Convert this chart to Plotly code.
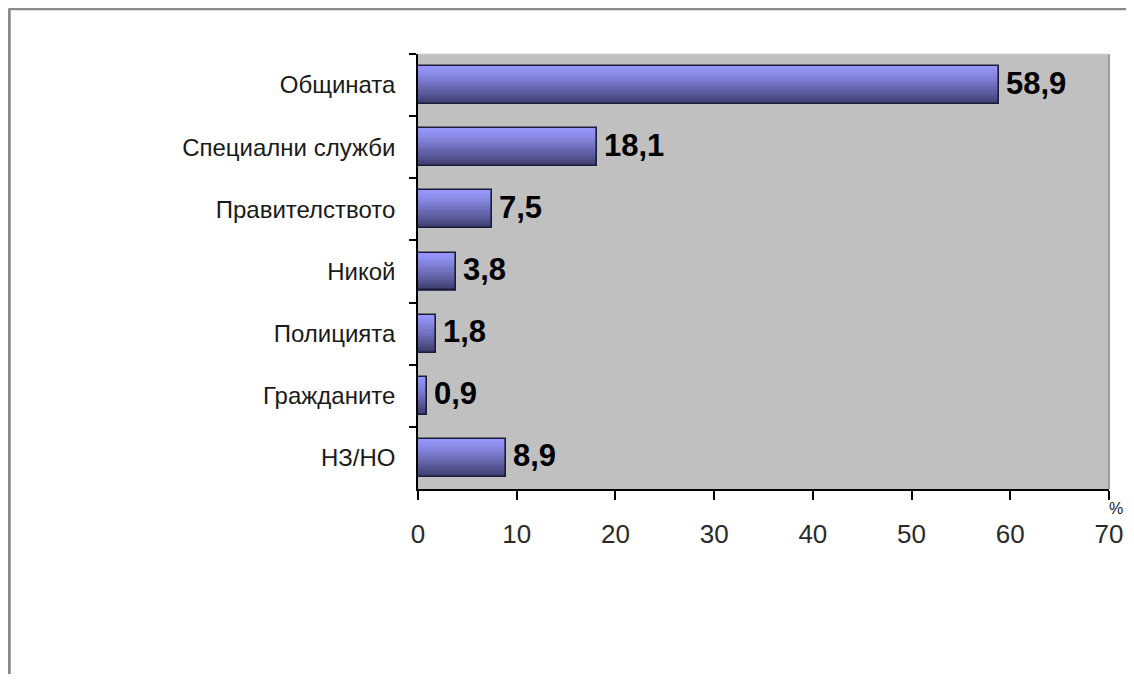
import plotly.graph_objects as go

# ---- data ----
categories = ["Общината", "Специални служби", "Правителството", "Никой",
              "Полицията", "Гражданите", "НЗ/НО"]
values = [58.9, 18.1, 7.5, 3.8, 1.8, 0.9, 8.9]
x_ticks = [0, 10, 20, 30, 40, 50, 60, 70]
unit_label = "%"

# ---- geometry / style (figure pixel coords; page adds an 8px body margin) ----
W, H = 1126, 666
L, R, T, B = 410, 1101, 46, 481
FONT = "Liberation Sans, Arial, sans-serif"
bar_w = 0.61
n_slices = 18
top_rgb = (150, 150, 250)
bot_rgb = (60, 60, 108)


def px_to_paper_x(px):
    return (px - L) / (R - L)


def px_to_paper_y(py):
    return (B - py) / (B - T)


fig = go.Figure()

# gradient slices (top light -> bottom dark)
step = bar_w / n_slices
for i in range(n_slices):
    t = i / (n_slices - 1)
    t = t ** 1.2
    c = tuple(round(top_rgb[k] + (bot_rgb[k] - top_rgb[k]) * t) for k in range(3))
    fig.add_trace(go.Bar(
        x=values, y=categories, orientation="h",
        width=step * 1.08, offset=-bar_w / 2 + i * step,
        marker=dict(color=f"rgb{c}", line=dict(width=0)),
        hoverinfo="skip", showlegend=False,
    ))

# outline
fig.add_trace(go.Bar(
    x=values, y=categories, orientation="h",
    width=bar_w, offset=-bar_w / 2,
    marker=dict(color="rgba(0,0,0,0)", line=dict(color="#1c1c38", width=1.6)),
    hoverinfo="skip", showlegend=False,
))

annotations = []
for cat, v in zip(categories, values):
    annotations.append(dict(
        x=v, y=cat, xref="x", yref="y",
        text=f"{v:.1f}".replace(".", ","),
        showarrow=False, xanchor="left", yanchor="middle",
        xshift=5, yshift=2,
        font=dict(family=FONT, size=31, color="#000000", weight="bold"),
    ))

annotations.append(dict(
    x=px_to_paper_x(1108), y=px_to_paper_y(500), xref="paper", yref="paper",
    text=unit_label, showarrow=False, xanchor="center", yanchor="middle",
    font=dict(family=FONT, size=16, color="#222222"),
))

shapes = [
    # outer frame (left and top)
    dict(type="line", xref="paper", yref="paper",
         x0=px_to_paper_x(1), x1=px_to_paper_x(W + 20),
         y0=px_to_paper_y(0.5), y1=px_to_paper_y(0.5),
         line=dict(color="#8a8a8a", width=3.5)),
    dict(type="line", xref="paper", yref="paper",
         x0=px_to_paper_x(1), x1=px_to_paper_x(1),
         y0=px_to_paper_y(0.5), y1=px_to_paper_y(H + 20),
         line=dict(color="#8a8a8a", width=3.5)),
    # plot-area right edge and top edge
    dict(type="line", xref="paper", yref="paper",
         x0=1, x1=1, y0=0, y1=1,
         line=dict(color="#9c9c9c", width=2)),
    dict(type="line", xref="paper", yref="paper",
         x0=0, x1=1, y0=1, y1=1,
         line=dict(color="#d4d4d4", width=1)),
]

fig.update_layout(
    width=W, height=H,
    margin=dict(l=L, r=W - R, t=T, b=H - B, pad=0),
    paper_bgcolor="#ffffff",
    plot_bgcolor="#c0c0c0",
    barmode="overlay",
    bargap=0,
    showlegend=False,
    annotations=annotations,
    shapes=shapes,
    font=dict(family=FONT, color="#1a1a1a"),
)

fig.update_xaxes(
    range=[0, 70], tickvals=x_ticks, ticktext=[str(v) for v in x_ticks],
    ticks="outside", ticklen=9, tickwidth=1.5, tickcolor="#000000",
    showline=True, linecolor="#000000", linewidth=1.5,
    showgrid=False, zeroline=False,
    tickfont=dict(family=FONT, size=26, color="#2a2a2a"),
    ticklabelstandoff=12,
)

fig.update_yaxes(
    type="category", categoryorder="array", categoryarray=categories,
    autorange="reversed",
    tickson="boundaries",
    ticks="outside", ticklen=7, tickwidth=1.5, tickcolor="#000000",
    showline=True, linecolor="#000000", linewidth=1.5,
    showgrid=False, zeroline=False,
    tickfont=dict(family=FONT, size=24, color="#1a1a1a"),
    ticklabelstandoff=16,
)

fig.write_html("out.html")
